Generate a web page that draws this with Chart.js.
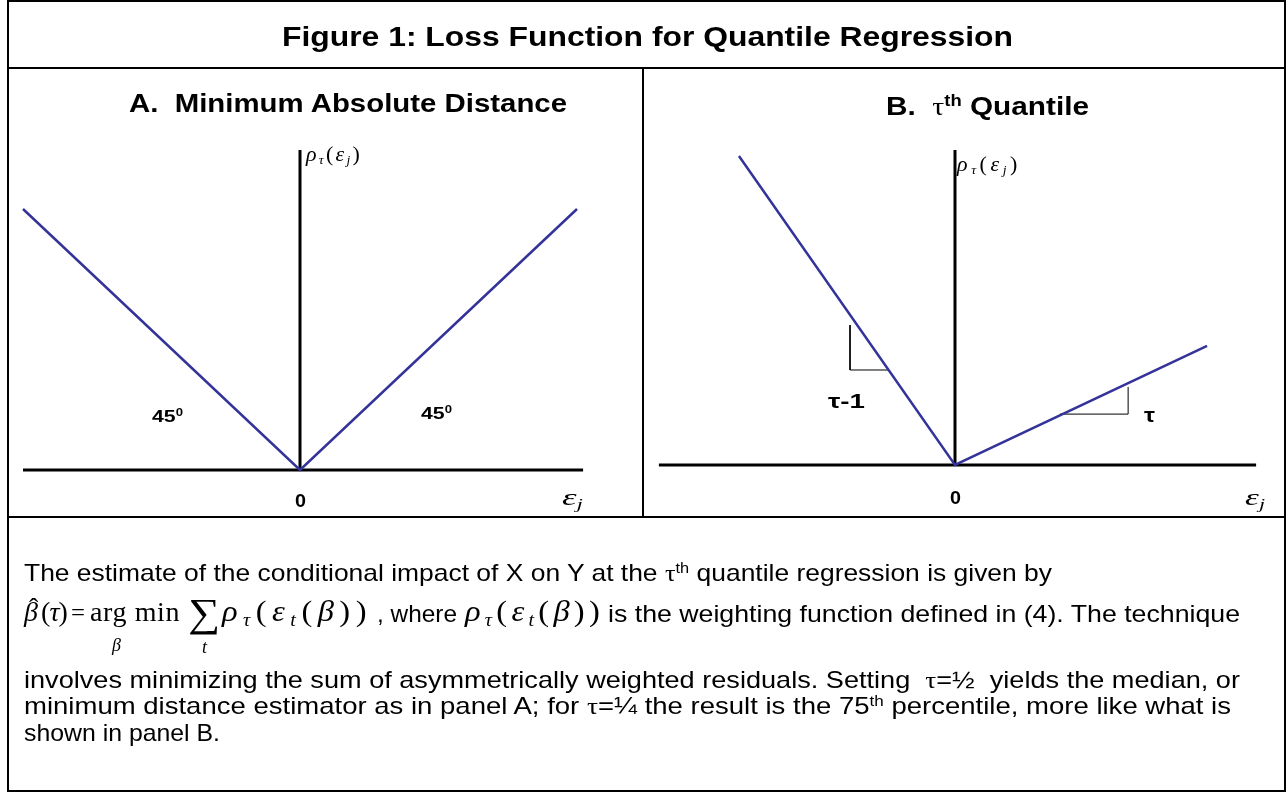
<!DOCTYPE html>
<html><head><meta charset="utf-8">
<script src="https://cdn.jsdelivr.net/npm/chart.js@4/dist/chart.umd.min.js"></script>
<style>
html,body{margin:0;padding:0;background:#fff;}
body{width:1286px;height:792px;position:relative;overflow:hidden;font-family:"Liberation Sans",Arial,sans-serif;color:#000;}
.box{position:absolute;border:2px solid #000;box-sizing:border-box;}
.rule{position:absolute;background:#000;}
.t{position:absolute;white-space:nowrap;line-height:1;transform-origin:0 0;}
.serif{font-family:"Liberation Serif","Times New Roman",serif;font-weight:normal;}
.b{font-weight:bold;}
.sub{font-size:0.62em;vertical-align:-0.28em;}
.sup{font-size:0.62em;vertical-align:0.55em;}
canvas{position:absolute;}
</style></head><body>
<canvas id="cA" width="643" height="446" style="left:0;top:70px;"></canvas>
<canvas id="cB" width="640" height="446" style="left:644px;top:70px;"></canvas>
<div class="box" style="left:7px;top:0;width:1279px;height:792px;"></div>
<div class="rule" style="left:7px;top:67px;width:1279px;height:2px;"></div>
<div class="rule" style="left:7px;top:516px;width:1279px;height:2px;"></div>
<div class="rule" style="left:642px;top:67px;width:2px;height:451px;"></div>
<script>
// ---- data (ε on x, ρτ(ε) on y) ----
// Panel A: minimum absolute distance (45° arms)
const epsA = [-1, 0, 1];
const rhoA = [1, 0, 1];
const axisEpsA = [-1.0, 1.022];
const axisRhoA = [0, 1.226];
// Panel B: τth quantile
const epsB = [-0.78, 0, 0.91];
const rhoB = [1.184, 0, 0.456];
const axisEpsB = [-1.069, 1.087];
const axisRhoB = [0, 1.207];
// slope triangles in panel B
const triLeftEps = [-0.379, -0.379, -0.24];
const triLeftRho = [0.536, 0.364, 0.364];
const triRightEps = [0.379, 0.625, 0.625];
const triRightRho = [0.195, 0.195, 0.299];

const BLUE = '#333399';
const pts = (xs, ys) => xs.map((x, i) => ({x: x, y: ys[i]}));
const ds = (data, color, width) => ({data: data, borderColor: color, borderWidth: width, showLine: true,
  pointRadius: 0, pointHoverRadius: 0, fill: false, tension: 0, clip: false, borderCapStyle: 'butt'});

function makeChart(id, datasets, xr, yr) {
  return new Chart(document.getElementById(id), {
    type: 'scatter',
    data: {datasets: datasets},
    options: {
      responsive: false, animation: false, events: [],
      layout: {padding: 0, autoPadding: false},
      plugins: {legend: {display: false}, tooltip: {enabled: false}, title: {display: false}},
      scales: {
        x: {type: 'linear', display: false, min: xr[0], max: xr[1]},
        y: {type: 'linear', display: false, min: yr[0], max: yr[1]}
      }
    }
  });
}

makeChart('cA', [
  ds(pts(epsA, rhoA), BLUE, 2.5),
  ds(pts(axisEpsA, [0, 0]), '#000', 3),
  ds(pts([0, 0], axisRhoA), '#000', 3)
], [-300/277, 343/277], [-46/261, 400/261]);

makeChart('cB', [
  ds(pts(epsB, rhoB), BLUE, 2.5),
  ds(pts(axisEpsB, [0, 0]), '#000', 3),
  ds(pts([0, 0], axisRhoB), '#000', 3),
  ds(pts(triLeftEps, triLeftRho), '#000', 1),
  ds(pts(triRightEps, triRightRho), '#000', 1)
], [-311/277, 329/277], [-51/261, 395/261]);

// ---- text ----
// mode 'scale': stretch horizontally to width; mode 'space': stretch by sx then letter-space to width
function L(html, x, base, size, cls, width, mode, sx) {
  const d = document.createElement('div');
  d.className = 't ' + (cls || '');
  d.innerHTML = html;
  d.style.fontSize = size + 'px';
  d.style.top = (base - 0.85 * size) + 'px';
  d.style.left = x + 'px';
  document.body.appendChild(d);
  const w = d.getBoundingClientRect().width;
  if (mode === 'space') {
    const s = sx || 1;
    const n = Array.from(d.textContent).length;
    d.style.letterSpacing = ((width / s - w) / n) + 'px';
    d.style.transform = 'scaleX(' + s + ')';
  } else if (width) {
    d.style.transform = 'scaleX(' + (width / w) + ')';
  }
  return d;
}
const rhoLbl = '<i>ρ</i><span class="sub"><i>τ</i></span>(<i>ε</i><span class="sub"><i>j</i></span>)';
const rhoEps = '<i>ρ</i><span class="sub"><i>τ</i></span>(<i>ε</i><span class="sub"><i>t</i></span>(<i>β</i>))';

L('Figure 1: Loss Function for Quantile Regression', 282, 47, 28, 'b', 731);
L('A.&nbsp; Minimum Absolute Distance', 129, 112, 26, 'b', 438);
L('B.&nbsp; <span class="serif">τ</span><span class="sup">th</span> Quantile', 886, 114, 26, 'b', 203);

L(rhoLbl, 306, 161, 20, 'serif', 56, 'space', 1.1);
L(rhoLbl, 957, 171, 20, 'serif', 64, 'space', 1.1);
L('45<span class="sup">0</span>', 152, 421, 17, 'b', 31);
L('45<span class="sup">0</span>', 421, 418, 17, 'b', 31);
L('0', 295, 507, 18, 'b', 11);
L('0', 950, 504, 18, 'b', 11);
L('<i>ε</i><span class="sub"><i>j</i></span>', 562, 506, 23, 'serif', 21);
L('<i>ε</i><span class="sub"><i>j</i></span>', 1245, 506, 23, 'serif', 20);
L('τ-1', 828, 408, 20, 'b', 37);
L('τ', 1144, 422, 20, 'b', 11);

L('The estimate of the conditional impact of X on Y at the <span class="serif">τ</span><span class="sup">th</span> quantile regression is given by', 24, 581, 24, null, 1028);
L('<i>β</i>', 24, 622, 28, 'serif');
L('ˆ', 29, 618, 28, 'serif');
L('(<i>τ</i>)', 41, 622, 28, 'serif', 26, 'space');
L('=', 71, 622, 26, 'serif', 14);
L('arg min', 90, 622, 28, 'serif', 90, 'space');
L('∑', 188, 627, 40, 'serif', 32);
L('<i>β</i>', 112, 651, 18, 'serif');
L('<i>t</i>', 202, 653, 18, 'serif');
L(rhoEps, 222, 622, 29, 'serif', 150, 'space', 1.12);
L(', where', 377, 622, 24, null, 80);
L(rhoEps, 465, 622, 29, 'serif', 139, 'space', 1.12);
L('is the weighting function defined in (4). The technique', 608, 622, 24, null, 632);
L('involves minimizing the sum of asymmetrically weighted residuals. Setting&nbsp; <span class="serif">τ</span>=½&nbsp; yields the median, or', 24, 688, 24, null, 1216);
L('minimum distance estimator as in panel A; for <span class="serif">τ</span>=¼ the result is the 75<span class="sup">th</span> percentile, more like what is', 24, 714, 24, null, 1207);
L('shown in panel B.', 24, 741, 24, null, 196);
</script>
</body></html>
